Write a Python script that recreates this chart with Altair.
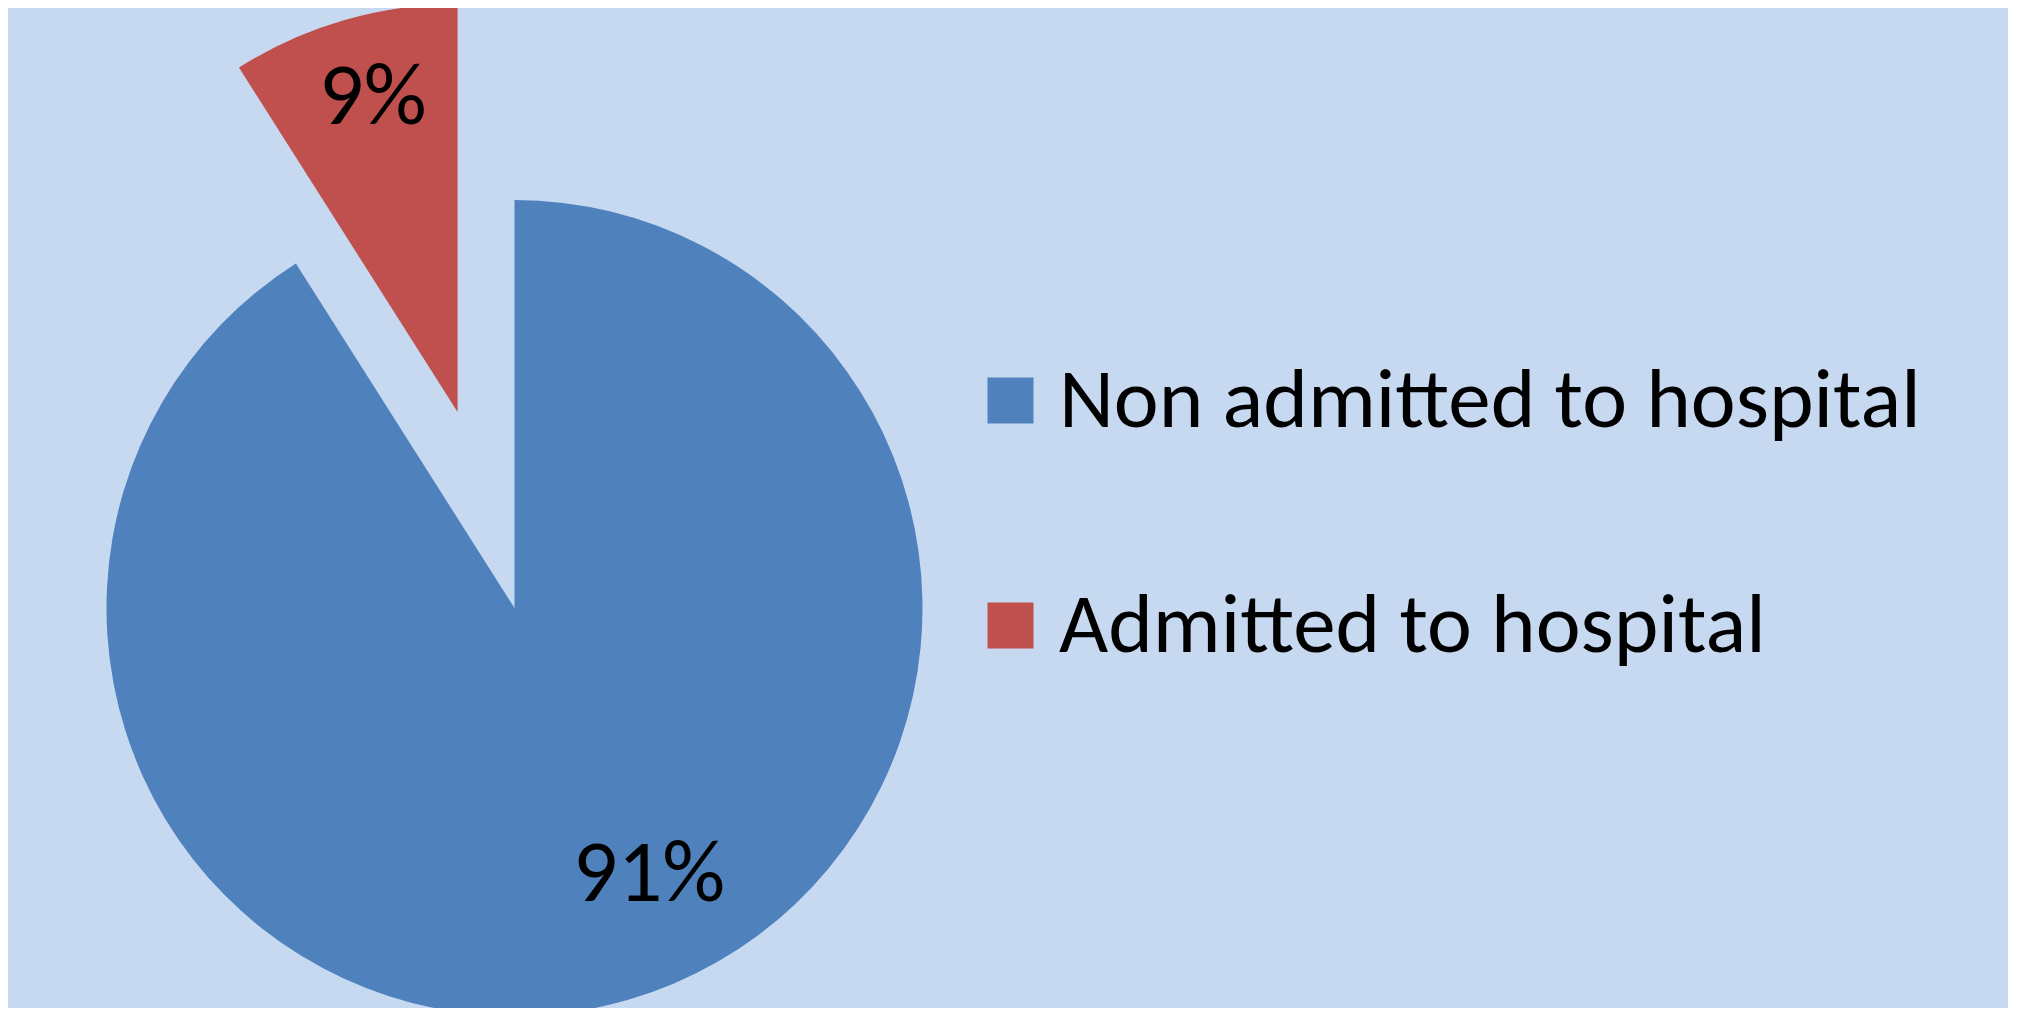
import math
import altair as alt
import pandas as pd

# ---- data ----
categories = ["Non admitted to hospital", "Admitted to hospital"]
shares = [91, 9]
labels = ["91%", "9%"]
order = [0, 1]
colors = ["#4F81BD", "#C0504D"]

df = pd.DataFrame({"category": categories, "share": shares, "label": labels, "order": order})

# ---- style ----
FONT = "Carlito, 'Liberation Sans Narrow', 'DejaVu Sans Condensed', 'Open Sans'"
BG = "#C6D9F0"
R = 408
EXPLODE = 0.5 * R
total = sum(shares)
start_frac = shares[0] / total
mid = (start_frac + 1.0) / 2 * 2 * math.pi
dx = EXPLODE * math.sin(mid)
dy = -EXPLODE * math.cos(mid)

base = alt.Chart(df).transform_stack(
    stack="share", groupby=[], as_=["s0", "s1"], sort=[alt.SortField("order")]
).transform_calculate(
    smid="(datum.s0 + datum.s1) / 2"
)

theta_scale = alt.Scale(domain=[0, total])
color = alt.Color(
    "category:N",
    scale=alt.Scale(domain=categories, range=colors),
    legend=alt.Legend(
        title=None,
        orient="none",
        legendX=960,
        legendY=-50,
        symbolType="square",
        symbolSize=2116,
        symbolStrokeWidth=0,
        labelFontSize=85,
        labelFont=FONT,
        labelColor="#000000",
        labelLimit=2000,
        labelOffset=6,
        rowPadding=139,
        padding=0,
    ),
)

blue_arc = base.transform_filter(alt.datum.order == 0).mark_arc(radius=R).encode(
    theta=alt.Theta("s0:Q", scale=theta_scale),
    theta2="s1:Q",
    color=color,
)
red_arc = base.transform_filter(alt.datum.order == 1).mark_arc(
    radius=R, xOffset=dx, yOffset=dy
).encode(
    theta=alt.Theta("s0:Q", scale=theta_scale),
    theta2="s1:Q",
    color=color,
)
blue_text = base.transform_filter(alt.datum.order == 0).mark_text(
    radius=296, dx=52, dy=-17, fontSize=88, font=FONT, color="#000000"
).encode(
    theta=alt.Theta("smid:Q", scale=theta_scale),
    text="label:N",
)
red_text = base.transform_filter(alt.datum.order == 1).mark_text(
    radius=329, xOffset=dx, yOffset=dy, dx=7, dy=2, fontSize=88, font=FONT, color="#000000"
).encode(
    theta=alt.Theta("smid:Q", scale=theta_scale),
    text="label:N",
)

chart = alt.layer(blue_arc, red_arc, blue_text, red_text).properties(
    width=1013,
    height=400,
    padding={"left": 0, "top": 400, "right": 987, "bottom": 200},
    autosize=alt.AutoSizeParams(type="none"),
    background=BG,
).configure_view(stroke=None)

chart.save("out.html", embed_options={"renderer": "svg", "actions": False})
